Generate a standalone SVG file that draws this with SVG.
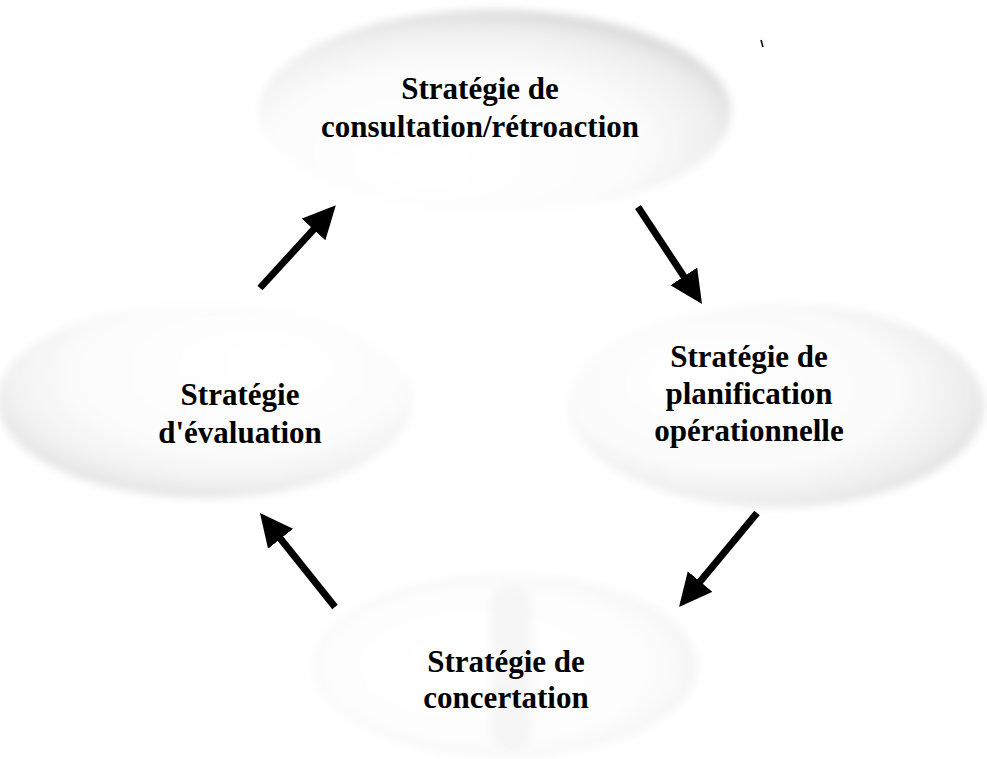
<svg xmlns="http://www.w3.org/2000/svg" width="987" height="759" viewBox="0 0 987 759">
  <style>
    .label { font-family: "Liberation Serif", "Times New Roman", serif; font-weight: bold; font-size: 31px; fill: #000; text-anchor: middle; }
    .flow { stroke: #000; stroke-width: 7; fill: none; marker-end: url(#head); }
    .disc { filter: url(#soft); }
  </style>
  <defs>
    <marker id="head" markerUnits="userSpaceOnUse" markerWidth="36" markerHeight="34" refX="11" refY="16" orient="auto">
      <path d="M0,0 L33,16 L0,32 Z" fill="#000"/>
    </marker>
    <filter id="soft" x="-10%" y="-10%" width="120%" height="120%">
      <feGaussianBlur stdDeviation="4"/>
    </filter>
    <!-- soft shaded discs, lighter toward the lower left -->
    <radialGradient id="shadeTop" cx="0.45" cy="0.6" r="0.6" fx="0.35" fy="0.8">
      <stop offset="0" stop-color="#ffffff"/>
      <stop offset="0.65" stop-color="#fcfcfc"/>
      <stop offset="0.88" stop-color="#efefef"/>
      <stop offset="1" stop-color="#dadada"/>
    </radialGradient>
    <radialGradient id="shadeRight" cx="0.45" cy="0.45" r="0.6" fx="0.3" fy="0.35">
      <stop offset="0" stop-color="#ffffff"/>
      <stop offset="0.65" stop-color="#fbfbfb"/>
      <stop offset="0.88" stop-color="#eeeeee"/>
      <stop offset="1" stop-color="#dcdcdc"/>
    </radialGradient>
    <radialGradient id="shadeLeft" cx="0.55" cy="0.4" r="0.6" fx="0.65" fy="0.3">
      <stop offset="0" stop-color="#ffffff"/>
      <stop offset="0.65" stop-color="#fcfcfc"/>
      <stop offset="0.88" stop-color="#f2f2f2"/>
      <stop offset="1" stop-color="#e4e4e4"/>
    </radialGradient>
    <radialGradient id="shadeBottom" cx="0.5" cy="0.5" r="0.6" fx="0.35" fy="0.5">
      <stop offset="0" stop-color="#ffffff"/>
      <stop offset="0.7" stop-color="#fdfdfd"/>
      <stop offset="1" stop-color="#f0f0f0"/>
    </radialGradient>
  </defs>

  <rect width="987" height="759" fill="#fff"/>

  <g id="node-consultation">
    <ellipse class="disc" cx="495" cy="112" rx="236" ry="102" fill="url(#shadeTop)"/>
    <text class="label" x="480" y="99">Stratégie de</text>
    <text class="label" x="480" y="137">consultation/rétroaction</text>
  </g>

  <g id="node-planification">
    <ellipse class="disc" cx="776" cy="405" rx="208" ry="102" fill="url(#shadeRight)"/>
    <text class="label" x="749" y="367">Stratégie de</text>
    <text class="label" x="749" y="404">planification</text>
    <text class="label" x="749" y="441">opérationnelle</text>
  </g>

  <g id="node-concertation">
    <ellipse class="disc" cx="505" cy="666" rx="193" ry="92" fill="url(#shadeBottom)"/>
    <rect class="disc" x="490" y="585" width="42" height="165" rx="20" fill="#eeeeee" opacity="0.45"/>
    <text class="label" x="506" y="672">Stratégie de</text>
    <text class="label" x="506" y="708">concertation</text>
  </g>

  <g id="node-evaluation">
    <ellipse class="disc" cx="205" cy="400" rx="208" ry="98" fill="url(#shadeLeft)"/>
    <text class="label" x="240" y="405">Stratégie</text>
    <text class="label" x="240" y="443">d'évaluation</text>
  </g>

  <g id="connectors">
    <line class="flow" x1="260" y1="288" x2="321" y2="221.4"/>
    <line class="flow" x1="638" y1="207" x2="689.9" y2="285.6"/>
    <line class="flow" x1="757" y1="513" x2="693.1" y2="590"/>
    <line class="flow" x1="335" y1="607" x2="273.7" y2="530.2"/>
  </g>

  <!-- small stray tick near the top right -->
  <line x1="761" y1="40" x2="763" y2="47" stroke="#000" stroke-width="1.5"/>
</svg>
